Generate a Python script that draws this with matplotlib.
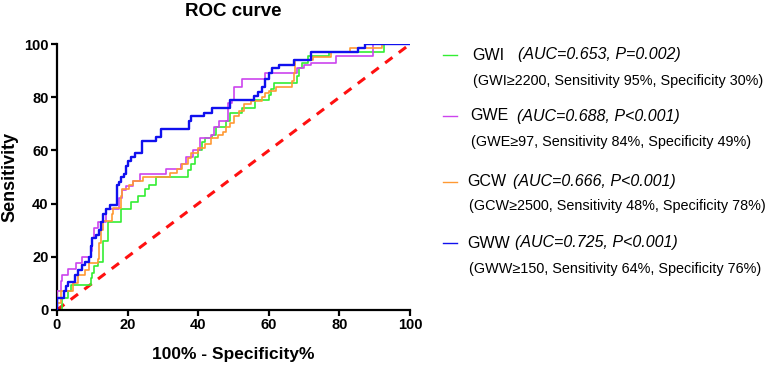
import matplotlib
matplotlib.use('Agg')
import matplotlib.pyplot as plt
from matplotlib.lines import Line2D

plt.rcParams['font.family'] = ['Liberation Sans', 'DejaVu Sans']

# step curves: (100% - specificity, sensitivity) break points
gwi_x = [0, 1.5, 1.5, 3, 4, 9.5, 10, 10.5, 11.5, 13, 14.5, 18, 21, 23, 25, 26, 28, 37, 38, 39, 40, 41,
         42, 44, 45, 48, 49, 52.5, 56, 60, 60.5, 61.5, 68, 68.5, 69.5, 71, 77, 92.5, 100]
gwi_y = [0, 0, 4.5, 7, 9.5, 12, 14, 16.5, 18, 26, 33, 38, 40.5, 43, 45.5, 47, 50, 52.5, 55, 57.5, 60, 63,
         64.5, 66, 69, 71, 74, 76, 79, 81, 83, 85.5, 88, 91, 93, 95.5, 97, 100, 100]

gwe_x = [0, 0, 1, 1.5, 3, 5.5, 7, 9.5, 10, 10.5, 11.5, 14, 17.5, 18.5, 19.5, 21.5, 23.5, 31, 35, 36.5,
         38.5, 40.5, 43.5, 44.5, 46, 48.5, 49.5, 50, 52.5, 59, 68, 70, 72, 79, 89.5, 100]
gwe_y = [0, 7, 11, 13, 15.5, 17.5, 20, 22, 27, 31, 33, 38, 42, 45, 46.5, 48.5, 51, 53, 55, 57.5,
         60, 64.5, 66, 69, 71, 78, 79, 84, 87, 89, 91, 92, 93, 95.5, 100, 100]

gcw_x = [0, 0, 1, 4.5, 6, 8, 9, 11.5, 12, 12.5, 13, 15.5, 16, 18, 18.5, 20.5, 21.5, 24.5, 32, 34, 35.5,
         37, 38, 40, 42, 43.5, 45.5, 47, 48, 49, 50, 51.5, 53, 55, 58, 59, 60, 62, 66.5, 67, 67.5,
         72.5, 77.5, 83, 92, 100]
gcw_y = [0, 2.5, 7, 10, 13, 15, 17.5, 19, 25, 30, 33.5, 36, 38.5, 43, 45.5, 47, 48.5, 50, 51.5, 53, 55,
         57, 59, 61, 62.5, 64.5, 66, 67, 69, 70.5, 73, 75, 77.5, 78.5, 80, 81.5, 82.5, 84, 86, 89, 94,
         95, 97, 98.5, 100, 100]

gww_x = [0, 0, 2, 2.5, 3, 5, 6, 7, 8, 9, 9.5, 10, 11, 12, 12.5, 13, 14, 15, 17, 17.5, 18, 19, 19.5, 20,
         21, 22, 24, 28, 29.5, 37.3, 38, 41.7, 44, 49, 55.7, 57, 58, 59, 60, 61, 63, 67, 72, 85.3,
         87.3, 100]
gww_y = [0, 4.5, 7, 9, 10.5, 13, 15, 17, 18, 20, 24, 27, 28, 30, 33, 36, 38, 39.5, 47, 48, 50, 51, 54,
         56, 57.5, 59, 63.5, 65, 68, 71, 73, 74, 76, 79, 80.5, 82, 84, 87, 89, 91, 92, 94, 97, 98.5,
         100, 100]

names = ['GWI', 'GWE', 'GCW', 'GWW']
colors = ['#33ee33', '#cc44ee', '#ff9933', '#1010ee']
widths = [1.2, 1.2, 1.2, 1.7]
auc_text = ['(AUC=0.653, P=0.002)', '(AUC=0.688, P<0.001)', '(AUC=0.666, P<0.001)', '(AUC=0.725, P<0.001)']
cutoff_text = ['(GWI≥2200, Sensitivity 95%, Specificity 30%)',
               '(GWE≥97, Sensitivity 84%, Specificity 49%)',
               '(GCW≥2500, Sensitivity 48%, Specificity 78%)',
               '(GWW≥150, Sensitivity 64%, Specificity 76%)']
xs = [gwi_x, gwe_x, gcw_x, gww_x]
ys = [gwi_y, gwe_y, gcw_y, gww_y]

fig = plt.figure(figsize=(7.65, 3.65), dpi=100)
ax = fig.add_axes([0.0745, 0.151, 0.4615, 0.728])

ax.plot([0, 100], [0, 100], color='#ff1010', lw=2.2, ls=(0, (3, 2.6)), zorder=1)
# draw order: red first, then green, orange, purple, blue on top
for i in [0, 2, 1, 3]:
    ax.plot(xs[i], ys[i], drawstyle='steps-post', color=colors[i], lw=widths[i], zorder=2 + i)

ax.set_xlim(0, 100)
ax.set_ylim(0, 100)
ax.set_xticks([0, 20, 40, 60, 80, 100])
ax.set_yticks([0, 20, 40, 60, 80, 100])
for s in ['top', 'right']:
    ax.spines[s].set_visible(False)
for s in ['left', 'bottom']:
    ax.spines[s].set_linewidth(1.6)
ax.tick_params(direction='out', length=4, width=1.6, labelsize=10.5, pad=2)
for lab in ax.get_xticklabels() + ax.get_yticklabels():
    lab.set_fontweight('bold')

ax.set_title('ROC curve', fontsize=13.5, fontweight='bold', pad=20)
ax.set_xlabel('100% - Specificity%', fontsize=12.5, fontweight='bold', labelpad=11)
ax.set_ylabel('Sensitivity', fontsize=13, fontweight='bold', labelpad=4)

# legend block on the right
row_y = [55, 116, 182, 243]
sub_y = [81, 142, 206, 269]
name_x = [472, 470, 467, 467]
auc_x = [518, 517, 513, 515]
sub_x = [473, 471, 469, 469]
W, H = 765.0, 365.0
for i in range(4):
    fig.add_artist(Line2D([443 / W, 457 / W], [1 - row_y[i] / H] * 2, color=colors[i], lw=1.0,
                          transform=fig.transFigure))
    fig.text(name_x[i] / W, 1 - row_y[i] / H, names[i], fontsize=11.5, va='center', ha='left')
    fig.text(auc_x[i] / W, 1 - row_y[i] / H, auc_text[i], fontsize=11.5, style='italic',
             va='center', ha='left')
    fig.text(sub_x[i] / W, 1 - sub_y[i] / H, cutoff_text[i], fontsize=10.4, va='center', ha='left')

fig.savefig('out.png', dpi=100)
